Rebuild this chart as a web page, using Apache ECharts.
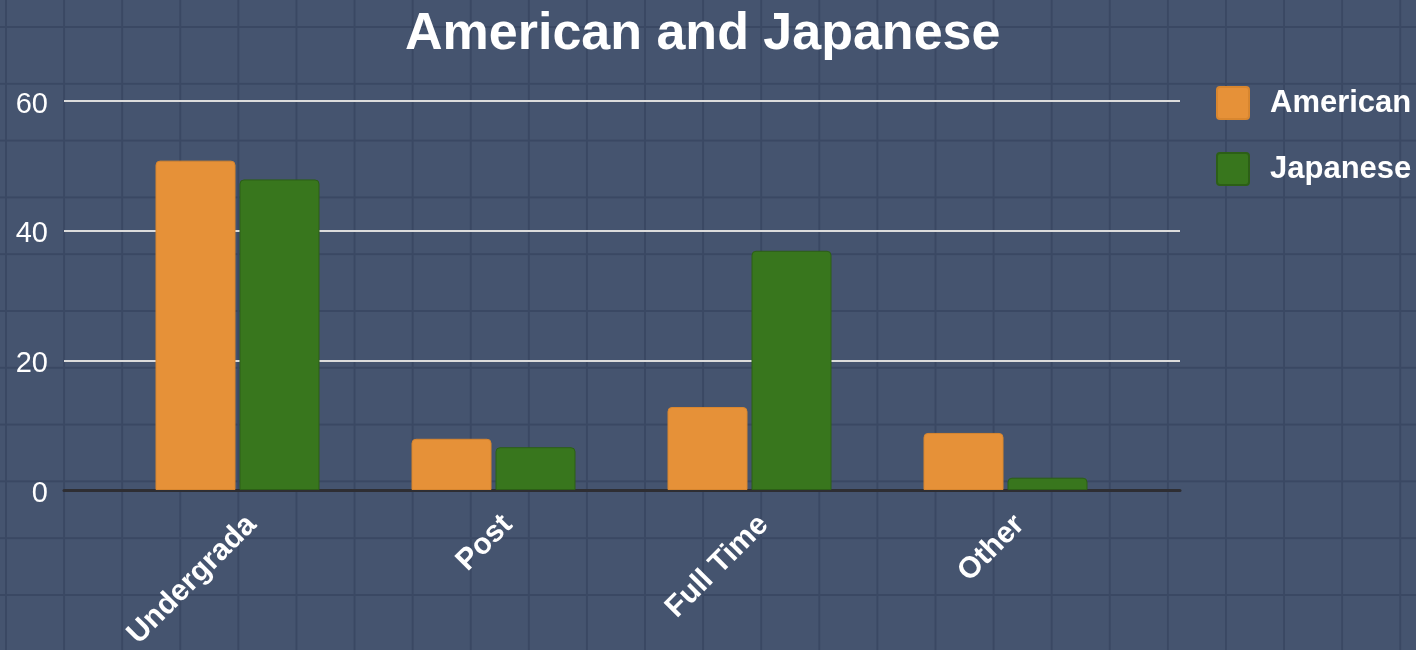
<!DOCTYPE html>
<html>
<head>
<meta charset="utf-8">
<script src="https://cdn.jsdelivr.net/npm/echarts@6/dist/echarts.min.js"></script>
<style>
html,body{margin:0;padding:0;}
#chart{
  width:1416px;height:650px;
  background-color:#45546f;
  background-image:linear-gradient(to right,#3a4863 2px,transparent 2px),linear-gradient(to bottom,#3a4863 2px,transparent 2px);
  background-size:58.1px 56.8px;
  background-position:5px 26px;
}
</style>
</head>
<body>
<div id="chart"></div>
<script>
const titleText = 'American and Japanese';
const categories = ['Undergrada', 'Post', 'Full Time', 'Other'];
const seriesNames = ['American', 'Japanese'];
const american = [50.8, 7.9, 12.8, 8.8];
const japanese = [47.9, 6.6, 36.9, 1.9];
const yTicks = { min: 0, max: 60, interval: 20 };

const chart = echarts.init(document.getElementById('chart'), null, { renderer: 'canvas' });
const font = 'Liberation Sans, Arial, sans-serif';
chart.setOption({
  backgroundColor: 'transparent',
  animation: false,
  textStyle: { fontFamily: font },
  title: {
    text: titleText,
    left: 405,
    top: 9,
    padding: 0,
    textStyle: { color: '#ffffff', fontSize: 52, fontWeight: 'bold', fontFamily: font }
  },
  legend: {
    data: seriesNames,
    orient: 'vertical',
    left: 1216,
    top: 86,
    padding: 0,
    itemWidth: 32,
    itemHeight: 32,
    itemGap: 32,
    icon: 'path://M3,0 H29 Q32,0 32,3 V29 Q32,32 29,32 H3 Q0,32 0,29 V3 Q0,0 3,0 Z',
    textStyle: { color: '#ffffff', fontSize: 31, fontWeight: 'bold', fontFamily: font, padding: [2, 0, 0, 16] }
  },
  grid: [
    { left: 64, right: 236, top: 101, bottom: 160, containLabel: false, outerBoundsMode: 'none' },
    { left: 109.5, right: 282.5, top: 101, bottom: 160, containLabel: false, outerBoundsMode: 'none' }
  ],
  xAxis: [
    {
      type: 'category', gridIndex: 0, data: categories,
      axisLine: { show: true, lineStyle: { color: '#2e2e33', width: 3 } },
      axisTick: { show: false }, axisLabel: { show: false }, splitLine: { show: false }
    },
    {
      type: 'category', gridIndex: 1, data: categories,
      axisLine: { show: false }, axisTick: { show: false },
      axisLabel: {
        rotate: 45, margin: 16, interval: 0, verticalAlign: 'top', lineHeight: 40,
        color: '#ffffff', fontSize: 30, fontWeight: 'bold', fontFamily: font
      }
    }
  ],
  yAxis: [
    {
      type: 'value', gridIndex: 0, min: yTicks.min, max: yTicks.max, interval: yTicks.interval,
      axisLine: { show: false }, axisTick: { show: false },
      axisLabel: { color: '#ffffff', fontSize: 29, margin: 16, verticalAlign: 'top', lineHeight: 7, fontFamily: font },
      splitLine: { show: true, lineStyle: { color: '#dcdcdc', width: 2 } }
    },
    {
      type: 'value', gridIndex: 1, min: yTicks.min, max: yTicks.max, interval: yTicks.interval,
      show: false, splitLine: { show: false }
    }
  ],
  series: [
    {
      name: seriesNames[0], type: 'bar', xAxisIndex: 1, yAxisIndex: 1, data: american,
      barWidth: 80, barGap: '5%',
      itemStyle: { color: '#e69138', borderColor: '#d8862f', borderWidth: 1, borderRadius: [4, 4, 0, 0] }
    },
    {
      name: seriesNames[1], type: 'bar', xAxisIndex: 1, yAxisIndex: 1, data: japanese,
      barWidth: 80, barGap: '5%',
      itemStyle: { color: '#38761d', borderColor: '#2c5f16', borderWidth: 1, borderRadius: [4, 4, 0, 0] }
    }
  ]
});
</script>
</body>
</html>
